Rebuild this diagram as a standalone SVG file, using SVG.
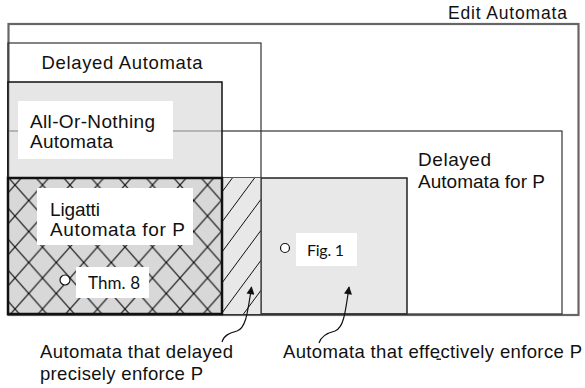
<svg xmlns="http://www.w3.org/2000/svg" width="585" height="388" viewBox="0 0 585 388">
  <style>
    .lbl { font-family: "Liberation Sans", Arial, sans-serif; font-size: 19px; fill: #111; }
    .ref { font-family: Lato, "Open Sans", sans-serif; font-size: 16px; fill: #111; }
    .tag { fill: #fff; stroke: none; }
    .dot { fill: #fff; stroke: #111; stroke-width: 1.2; }
    .outline { fill: none; stroke: #333; stroke-width: 1.2; }
    .conn { fill: none; stroke: #111; stroke-width: 1.2; }
  </style>
  <defs>
    <!-- diamond lattice for the Ligatti set -->
    <pattern id="crossHatch" patternUnits="userSpaceOnUse" x="1.25" y="169.5" width="27.5" height="31">
      <path d="M-1,-1.13 L28.5,32.13 M28.5,-1.13 L-1,32.13" stroke="#000" stroke-width="1.1" fill="none"/>
    </pattern>
    <clipPath id="stripClip">
      <rect x="222" y="178" width="39" height="136"/>
    </clipPath>
    <marker id="arrow" viewBox="0 0 10 10" refX="9" refY="5" markerWidth="9" markerHeight="8" markerUnits="userSpaceOnUse" orient="auto">
      <path d="M0,0 L10,5 L0,10 Z" fill="#111"/>
    </marker>
  </defs>

  <rect width="585" height="388" fill="#fff"/>

  <!-- outermost set -->
  <g id="edit-automata">
    <rect x="8.5" y="24" width="570" height="291" fill="#fff" stroke="#666" stroke-width="2.2"/>
    <text class="lbl" x="448" y="18.5" style="font-size:17.5px" textLength="119" lengthAdjust="spacing">Edit Automata</text>
  </g>

  <!-- shaded region of effective enforcers -->
  <g id="effective-enforcers">
    <rect x="8" y="178" width="399" height="136" fill="#e8e8e8" stroke="#222" stroke-width="1.5"/>
  </g>

  <g id="delayed-automata-for-p">
    <rect class="outline" x="8" y="131" width="554" height="183"/>
    <text class="lbl" x="418" y="166" textLength="73" lengthAdjust="spacing">Delayed</text>
    <text class="lbl" x="418" y="188" textLength="127" lengthAdjust="spacing">Automata for P</text>
  </g>

  <g id="delayed-automata">
    <rect class="outline" x="8" y="43" width="253" height="271"/>
    <text class="lbl" x="41.5" y="68.5" style="font-size:18.5px" textLength="161" lengthAdjust="spacing">Delayed Automata</text>
  </g>

  <g id="all-or-nothing-automata">
    <rect x="8" y="82" width="214" height="232" fill="#d5d5d5" fill-opacity="0.6" stroke="#111" stroke-width="1.5"/>
    <rect class="tag" x="18" y="101" width="155" height="58"/>
    <text class="lbl" x="30" y="128" textLength="125" lengthAdjust="spacing">All-Or-Nothing</text>
    <text class="lbl" x="30" y="148" textLength="83" lengthAdjust="spacing">Automata</text>
  </g>

  <!-- strip of automata that delayed-precisely enforce P -->
  <g id="delayed-precise">
    <rect x="222" y="178" width="39" height="136" fill="#e8e8e8"/>
    <g clip-path="url(#stripClip)" stroke="#111" stroke-width="1">
      <line x1="222" y1="162" x2="261" y2="109.3"/>
      <line x1="222" y1="192" x2="261" y2="139.3"/>
      <line x1="222" y1="222" x2="261" y2="169.3"/>
      <line x1="222" y1="252" x2="261" y2="199.3"/>
      <line x1="222" y1="283" x2="261" y2="230.3"/>
      <line x1="222" y1="313" x2="261" y2="260.3"/>
      <line x1="222" y1="343" x2="261" y2="290.3"/>
    </g>
    <line x1="261" y1="178" x2="261" y2="314" stroke="#333" stroke-width="1.2"/>
  </g>

  <g id="ligatti-automata-for-p">
    <rect x="8" y="178" width="214" height="136" fill="#d8d8d8"/>
    <rect x="8" y="178" width="214" height="136" fill="url(#crossHatch)" stroke="#111" stroke-width="2.5"/>
    <rect class="tag" x="37" y="188" width="156" height="57"/>
    <text class="lbl" x="50" y="216" textLength="50" lengthAdjust="spacing">Ligatti</text>
    <text class="lbl" x="50" y="236" textLength="135" lengthAdjust="spacing">Automata for P</text>
  </g>

  <g id="thm-8">
    <circle class="dot" cx="65" cy="280" r="5"/>
    <rect class="tag" x="76" y="267" width="73" height="31"/>
    <text class="ref" x="88" y="288.5" style="font-size:17px" textLength="52" lengthAdjust="spacing">Thm. 8</text>
  </g>

  <g id="fig-1">
    <circle class="dot" cx="285" cy="248" r="4.5"/>
    <rect class="tag" x="296" y="233" width="61" height="33"/>
    <text class="ref" x="307" y="256" textLength="37" lengthAdjust="spacing">Fig. 1</text>
  </g>

  <!-- callouts -->
  <g id="connectors">
    <path class="conn" marker-end="url(#arrow)" d="M222,342 C224,335 230,333 237,331 C245,328 247,318 251.5,287"/>
    <path class="conn" marker-end="url(#arrow)" d="M319,343 C321,336 327,333 335,331 C343,328 345,316 349,287"/>
  </g>

  <g id="callout-labels">
    <text class="lbl" x="40" y="358" style="font-size:18.5px" textLength="193" lengthAdjust="spacing">Automata that delayed</text>
    <text class="lbl" x="40" y="380" style="font-size:18.5px" textLength="163" lengthAdjust="spacing">precisely enforce P</text>
    <text class="lbl" x="283" y="358" style="font-size:18.5px" textLength="299" lengthAdjust="spacing">Automata that effectively enforce P</text>
    <rect x="436.5" y="358.5" width="4.5" height="1.5" fill="#222"/>
  </g>
</svg>
